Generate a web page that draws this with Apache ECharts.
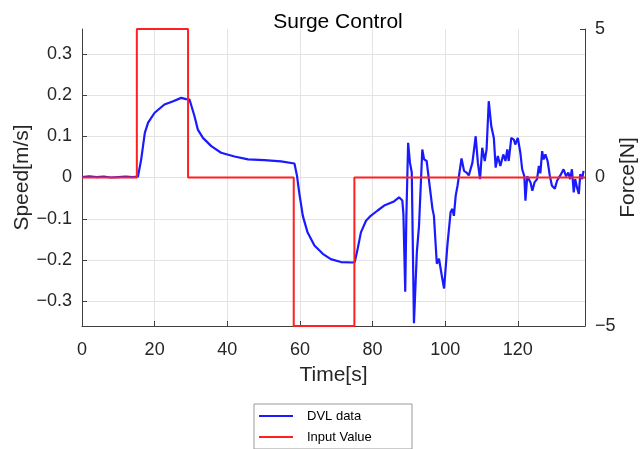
<!DOCTYPE html>
<html>
<head>
<meta charset="utf-8">
<script src="https://cdn.jsdelivr.net/npm/echarts@6/dist/echarts.min.js"></script>
<style>html,body{margin:0;padding:0;background:#fff;}#c{width:644px;height:449px;}</style>
</head>
<body>
<div id="c"></div>
<script>
const titleText = 'Surge Control';
const xTicks = [0, 20, 40, 60, 80, 100, 120];
const speedTicks = [-0.3, -0.2, -0.1, 0, 0.1, 0.2, 0.3];
const forceTicks = [-5, 0, 5];

const dvlTime = [0,2,4,6,8,10,12,14,15.4,16.3,17.3,18.2,20,22.7,25.1,27.3,28.7,29.6,31,31.9,33.3,35.6,38.3,42,45.7,50.2,54.8,58.5,59.2,59.8,60.8,62.1,64,66.3,68.5,71.3,74.5,75.1,75.9,76.8,78.2,79.5,81.4,83.2,85.9,87.3,88.2,88.5,89,89.3,89.8,90.3,90.8,91.4,92.2,92.8,93.7,94.2,94.9,95.5,96.5,96.9,97.7,98.3,98.8,99.2,99.7,100.6,101.5,102,102.4,102.9,103.4,103.8,104.5,105.2,105.9,106.5,107.5,108.4,109,109.6,110.2,110.9,111.4,112,112.7,113.4,113.9,114.5,115.2,116,116.6,117.1,117.5,118.2,118.9,119.3,120,120.7,121.2,121.8,122.1,122.6,123,123.5,124,124.6,125.3,125.8,126.2,126.7,127.1,127.6,128.2,128.8,129.4,130.2,130.8,131.7,132.6,133.3,133.9,134.4,134.9,135.4,135.8,136.3,136.8,137.2,137.7,138.1];
const dvlSpeed = [0.001,0.003,0.001,0.002,0.000,0.001,0.002,0.001,0.002,0.044,0.108,0.133,0.157,0.177,0.185,0.193,0.19,0.189,0.148,0.116,0.096,0.076,0.060,0.051,0.044,0.042,0.039,0.034,0.004,-0.036,-0.093,-0.133,-0.165,-0.185,-0.198,-0.205,-0.206,-0.205,-0.173,-0.133,-0.105,-0.093,-0.080,-0.068,-0.058,-0.048,-0.056,-0.088,-0.277,-0.1,0.084,0.036,0.012,-0.353,-0.181,-0.117,0.068,0.044,0.040,-0.004,-0.076,-0.093,-0.209,-0.197,-0.193,-0.245,-0.269,-0.165,-0.084,-0.076,-0.093,-0.044,-0.020,-0.016,0.046,0.016,0.012,0.005,0.036,0.100,0.036,-0.004,0.072,0.040,0.068,0.185,0.124,0.096,0.024,0.052,0.028,0.056,0.040,0.068,0.040,0.096,0.092,0.080,0.096,0.060,0.020,0.003,-0.056,0.003,-0.004,-0.012,-0.032,-0.012,-0.004,0.028,0.010,0.064,0.044,0.056,0.040,0.005,-0.020,-0.027,-0.008,0.005,0.020,0.003,0.012,-0.004,0.020,-0.036,-0.004,-0.024,-0.040,0.008,-0.004,0.016];

const inputTime = [0, 15.1, 15.1, 29.2, 29.2, 58.3, 58.3, 75.0, 75.0, 138.5];
const inputForce = [0, 0, 5, 5, 0, 0, -5, -5, 0, 0];

const fmt = v => String(+(+v).toFixed(2)).replace('-', '\u2212');
const axisCol = '#404040';
const labCol = '#262626';
const FONT = 'Liberation Sans, Arial, sans-serif';

const chart = echarts.init(document.getElementById('c'), null, {renderer: 'canvas'});
chart.setOption({
  animation: false,
  backgroundColor: '#fff',
  title: {text: titleText, left: 333, top: 7, textAlign: 'center',
    textStyle: {fontFamily: FONT, fontSize: 21, fontWeight: 'normal', color: '#000'}},
  grid: {left: 82, right: 59, top: 29, bottom: 123, containLabel: false, outerBoundsMode: 'none'},
  legend: {
    orient: 'vertical', left: 254, top: 404,
    icon: 'rect', itemWidth: 34, itemHeight: 2, itemGap: 7,
    padding: [5, 5, 5, 5],
    borderColor: '#999', borderWidth: 1, backgroundColor: '#fff',
    textStyle: {fontFamily: FONT, fontSize: 13, color: '#000', width: 100, lineHeight: 14, padding: [0, 0, 0, 9]},
    data: ['DVL data', 'Input Value']
  },
  xAxis: {
    type: 'value', min: 0, max: 138.5, interval: 20,
    name: 'Time[s]', nameLocation: 'middle', nameGap: 39, nameMoveOverlap: false,
    nameTextStyle: {fontFamily: FONT, fontSize: 21, color: labCol},
    axisLine: {onZero: false, lineStyle: {color: axisCol, width: 1}},
    axisTick: {inside: true, length: 5, lineStyle: {color: axisCol}},
    axisLabel: {fontFamily: FONT, fontSize: 18, color: labCol, margin: 15, showMaxLabel: false,
      formatter: v => xTicks.includes(+v) ? fmt(v) : ''},
    splitLine: {show: true, lineStyle: {color: '#e3e3e3', width: 1}}
  },
  yAxis: [
    {
      type: 'value', min: -0.36, max: 0.36, position: 'left',
      name: 'Speed[m/s]', nameLocation: 'middle', nameGap: 49, nameMoveOverlap: false,
      nameTextStyle: {fontFamily: FONT, fontSize: 21, color: labCol},
      axisLine: {show: true, lineStyle: {color: axisCol, width: 1}},
      axisTick: {show: true, inside: true, length: 5, lineStyle: {color: axisCol}, customValues: speedTicks},
      axisLabel: {fontFamily: FONT, fontSize: 18, color: labCol, margin: 10, customValues: speedTicks, formatter: fmt},
      splitLine: {show: true, lineStyle: {color: '#e3e3e3', width: 1}}
    },
    {
      type: 'value', min: -5, max: 5, interval: 5, position: 'right',
      name: 'Force[N]', nameLocation: 'middle', nameGap: 33, nameRotate: 90, nameMoveOverlap: false,
      nameTextStyle: {fontFamily: FONT, fontSize: 21, color: labCol},
      axisLine: {show: true, lineStyle: {color: axisCol, width: 1}},
      axisTick: {show: true, inside: true, length: 5, lineStyle: {color: axisCol}},
      axisLabel: {fontFamily: FONT, fontSize: 18, color: labCol, margin: 10, formatter: v => forceTicks.includes(+v) ? fmt(v) : ''},
      splitLine: {show: false}
    }
  ],
  series: [
    {
      name: 'DVL data', type: 'line', yAxisIndex: 0, showSymbol: false, symbol: 'none',
      lineStyle: {color: '#1a1aff', width: 2.2}, itemStyle: {color: '#1a1aff'},
      data: dvlTime.map((t, i) => [t, dvlSpeed[i]]), z: 2
    },
    {
      name: 'Input Value', type: 'line', yAxisIndex: 1, showSymbol: false, symbol: 'none', clip: false,
      lineStyle: {color: '#ff2020', width: 2}, itemStyle: {color: '#ff2020'},
      data: inputTime.map((t, i) => [t, inputForce[i]]), z: 3
    }
  ]
});
</script>
</body>
</html>
